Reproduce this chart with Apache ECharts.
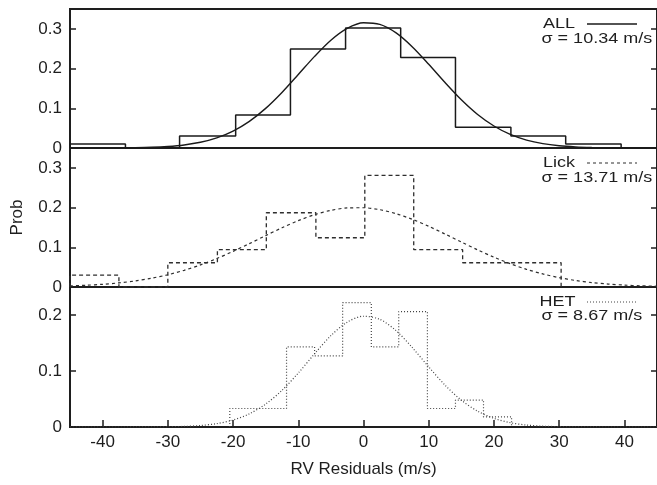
<!DOCTYPE html>
<html><head><meta charset="utf-8">
<script src="https://cdn.jsdelivr.net/npm/echarts@6/dist/echarts.min.js"></script>
<style>html,body{margin:0;padding:0;background:#fff}#c{width:657px;height:485px}</style>
</head><body><div id="c"></div>
<script>
// ---- data ----
const xTicks = [-40, -30, -20, -10, 0, 10, 20, 30, 40];
const yTicksTall = [0, 0.1, 0.2, 0.3];
const yTicksShort = [0, 0.1, 0.2];

const allEdges = [-45, -36.5, -28.2, -19.6, -11.2, -2.75, 5.7, 14.1, 22.6, 31.0, 39.5];
const allProb  = [0.010, 0, 0.030, 0.083, 0.249, 0.302, 0.228, 0.052, 0.030, 0.010];

const lickEdges = [-45, -37.5, -30.0, -22.4, -14.9, -7.3, 0.2, 7.7, 15.2, 22.8, 30.3];
const lickProb  = [0.030, 0, 0.061, 0.094, 0.187, 0.124, 0.281, 0.094, 0.061, 0.061];

const hetEdges = [-20.5, -16.2, -11.8, -7.5, -3.2, 1.2, 5.4, 9.8, 14.1, 18.4, 22.7];
const hetProb  = [0.033, 0.033, 0.143, 0.127, 0.222, 0.143, 0.206, 0.033, 0.048, 0.018];

const curveX = [-45,-42.5,-40,-37.5,-35,-32.5,-30,-27.5,-25,-22.5,-20,-17.5,-15,-12.5,-10,-7.5,-5,-2.5,0,2.5,5,7.5,10,12.5,15,17.5,20,22.5,25,27.5,30,32.5,35,37.5,40,42.5,45];
const allFit  = [0.0000,0.0001,0.0001,0.0003,0.0008,0.0018,0.0039,0.0077,0.0144,0.0255,0.0426,0.0671,0.0998,0.1399,0.1850,0.2307,0.2714,0.3012,0.3153,0.3112,0.2898,0.2545,0.2109,0.1648,0.1214,0.0844,0.0554,0.0342,0.0200,0.0110,0.0057,0.0028,0.0013,0.0006,0.0002,0.0001,0.0000];
const lickFit = [0.0027,0.0044,0.0068,0.0104,0.0153,0.0221,0.0309,0.0420,0.0556,0.0716,0.0897,0.1092,0.1294,0.1491,0.1670,0.1821,0.1930,0.1990,0.1996,0.1946,0.1846,0.1703,0.1528,0.1334,0.1132,0.0935,0.0751,0.0586,0.0445,0.0329,0.0236,0.0165,0.0112,0.0074,0.0048,0.0030,0.0018];
const hetFit  = [0,0,0,0,0.0001,0.0002,0.0004,0.0011,0.0027,0.0060,0.0124,0.0235,0.0409,0.0654,0.0964,0.1307,0.1631,0.1872,0.1978,0.1923,0.1720,0.1416,0.1073,0.0748,0.0479,0.0283,0.0154,0.0077,0.0035,0.0015,0.0006,0.0002,0.0001,0,0,0,0];

const panelNames = ['ALL', 'Lick', 'HET'];
const sigmaTexts = ['σ = 10.34 m/s', 'σ = 13.71 m/s', 'σ = 8.67 m/s'];
const xName = 'RV Residuals (m/s)';
const yName = 'Prob';

// ---- build ----
function outline(edges, vals) {
  const pts = [[edges[0], 0]];
  for (let i = 0; i < vals.length; i++) {
    pts.push([edges[i], vals[i]]);
    pts.push([edges[i + 1], vals[i]]);
  }
  pts.push([edges[edges.length - 1], 0]);
  return pts;
}
function pairs(xs, ys) { return xs.map((x, i) => [x, ys[i]]); }

const FONT = 'Liberation Sans, Arial, Helvetica, sans-serif';
const INK = '#1e1e1e';
const grids = [
  { left: 70, width: 588, top: 9, height: 139 },
  { left: 70, width: 588, top: 148, height: 139 },
  { left: 70, width: 588, top: 287, height: 140 }
].map(g => Object.assign(g, { show: true, borderColor: INK, borderWidth: 2, backgroundColor: 'transparent' }));

const xAxes = [0, 1, 2].map(i => {
  const bottom = i === 2;
  return {
    type: 'value', gridIndex: i, min: -45, max: 45, position: 'bottom',
    axisLine: { show: false, onZero: false }, splitLine: { show: false },
    axisTick: { show: bottom, inside: true, length: 7, lineStyle: { color: INK, width: 1.5 }, customValues: xTicks },
    axisLabel: { show: bottom, customValues: xTicks, fontSize: 17, fontFamily: FONT, color: INK, margin: 7 },
    name: bottom ? xName : '', nameLocation: 'middle', nameGap: 34,
    nameTextStyle: { fontSize: 17, fontFamily: FONT, color: INK }
  };
});

const yAxes = [];
[0, 1, 2].forEach(i => {
  const ticks = i === 2 ? yTicksShort : yTicksTall;
  const max = i === 2 ? 0.25 : 0.35;
  ['left', 'right'].forEach(pos => {
    yAxes.push({
      type: 'value', gridIndex: i, min: 0, max: max, position: pos,
      axisLine: { show: false, onZero: false }, splitLine: { show: false },
      axisTick: { show: true, inside: true, length: 6, lineStyle: { color: INK, width: 1.5 }, customValues: ticks },
      axisLabel: { show: pos === 'left', customValues: ticks, fontSize: 17, fontFamily: FONT, color: INK, margin: 8 },
      name: (pos === 'left' && i === 1) ? yName : '', nameLocation: 'middle', nameGap: 44,
      nameTextStyle: { fontSize: 17, fontFamily: FONT, color: INK }
    });
  });
});

const styles = [
  { hist: { color: '#1a1a1a', width: 1.5, type: 'solid' }, fit: { color: '#1a1a1a', width: 1.4, type: 'solid' } },
  { hist: { color: '#2e2e2e', width: 1.3, type: [4, 3] }, fit: { color: '#2e2e2e', width: 1.2, type: [3, 3] } },
  { hist: { color: '#444', width: 1.2, type: [1, 2] }, fit: { color: '#444', width: 1.2, type: [1, 2] } }
];
const hists = [outline(allEdges, allProb), outline(lickEdges, lickProb), outline(hetEdges, hetProb)];
const fits = [pairs(curveX, allFit), pairs(curveX, lickFit), pairs(curveX, hetFit)];

const series = [];
[0, 1, 2].forEach(i => {
  series.push({ type: 'line', name: panelNames[i] + ' hist', xAxisIndex: i, yAxisIndex: i * 2, data: hists[i],
    showSymbol: false, symbol: 'none', lineStyle: styles[i].hist, itemStyle: { color: styles[i].hist.color }, animation: false, z: 3 });
  series.push({ type: 'line', name: panelNames[i], xAxisIndex: i, yAxisIndex: i * 2, data: fits[i],
    smooth: 0.3, showSymbol: false, symbol: 'none', lineStyle: styles[i].fit, itemStyle: { color: styles[i].fit.color }, animation: false, z: 3 });
});

// legends (text + sample line) per panel
const graphic = [];
grids.forEach((g, i) => {
  const yName = g.top + 15;
  const ySig = g.top + (i === 2 ? 28.5 : 30);
  graphic.push({ type: 'text', x: i === 2 ? 539.5 : 543, y: yName, scaleX: 1.2,
    style: { text: panelNames[i], font: '15px ' + FONT, fill: INK, textVerticalAlign: 'middle' } });
  graphic.push({ type: 'text', x: 541.5, y: ySig, scaleX: 1.2,
    style: { text: sigmaTexts[i], font: '15px ' + FONT, fill: INK, textVerticalAlign: 'middle' } });
  const s = styles[i].fit;
  graphic.push({ type: 'line', shape: { x1: 587, y1: yName, x2: 637, y2: yName },
    style: { stroke: s.color, lineWidth: s.width, lineDash: Array.isArray(s.type) ? s.type : null } });
});

const chart = echarts.init(document.getElementById('c'), null, { renderer: 'canvas' });
chart.setOption({
  backgroundColor: '#fff',
  animation: false,
  grid: grids,
  xAxis: xAxes,
  yAxis: yAxes,
  series: series,
  graphic: graphic
});
</script>
</body></html>
